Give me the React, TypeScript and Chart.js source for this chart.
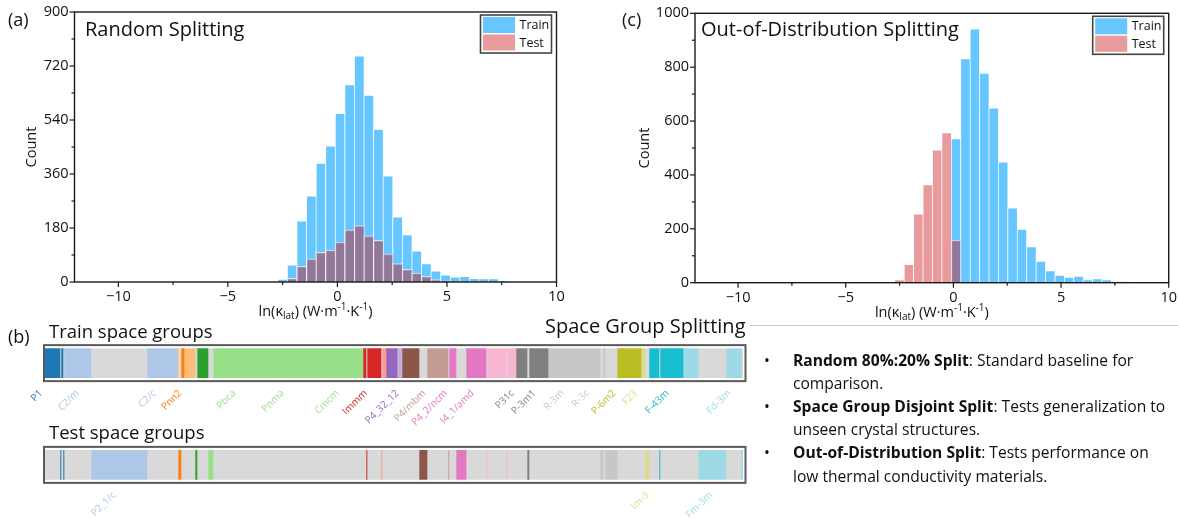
import React, { useEffect, useRef } from "react";
import { Chart, registerables } from "chart.js";

Chart.register(...registerables);

const FONT = '"Open Sans", "Noto Sans", "DejaVu Sans", sans-serif';
Chart.defaults.font.family = FONT;

// ---------------- histogram data ----------------
const binCenters = [
  -2.953, -2.516, -2.078, -1.641, -1.203, -0.766, -0.328, 0.109, 0.547, 0.984, 1.422, 1.859, 2.297,
  2.734, 3.172, 3.609, 4.047, 4.484, 4.922, 5.359, 5.797, 6.234, 6.672, 7.109, 7.547, 7.984,
];
const randomTrain = [
  0, 10, 57, 204, 287, 396, 454, 562, 658, 754, 623, 510, 354, 217, 158, 104, 61, 37, 24, 17, 19, 12, 11,
  11, 5, 0,
];
const randomTest = [
  0, 0, 12, 52, 77, 99, 106, 133, 174, 188, 154, 139, 94, 61, 42, 30, 19, 8, 4, 3, 2, 1, 1, 0, 0, 0,
];
const oodTrain = [
  0, 0, 0, 0, 0, 0, 0, 535, 832, 942, 778, 649, 449, 278, 199, 134, 80, 45, 28, 21, 25, 12, 15, 12, 4, 4,
];
const oodTest = [
  3, 12, 68, 256, 364, 493, 557, 158, 0, 0, 0, 0, 0, 0, 0, 0, 0, 0, 0, 0, 0, 0, 0, 0, 0, 0,
];
const xMajorTicks = [-10, -5, 0, 5, 10];
const xMinorTicks = [-7.5, -2.5, 2.5, 7.5];
const randomYTicks = [0, 180, 360, 540, 720, 900];
const oodYTicks = [0, 200, 400, 600, 800, 1000];
const seriesNames = ["Train", "Test"];

// ---------------- space-group strip data ----------------
const sgRows = ["Train", "Test"];
const sgBlockSize = [
  150, 10, 20, 10, 270, 560, 300, 10, 30, 30, 110, 20, 110, 50, 1500, 30, 10, 140, 10, 40, 110, 50, 170,
  80, 210, 10, 70, 100, 200, 10, 190, 10, 90, 110, 20, 190, 520, 30, 20, 120, 240, 40, 40, 100, 10, 230,
  150, 280, 150, 20,
];
const sgBlockSplit = [
  "tr", "te", "tr", "te", "tr", "te", "tr", "tr", "te", "tr", "tr", "te", "tr", "te", "tr", "tr", "te",
  "tr", "te", "tr", "tr", "tr", "tr", "te", "tr", "te", "tr", "te", "tr", "te", "tr", "te", "tr", "tr",
  "te", "tr", "tr", "te", "tr", "te", "tr", "tr", "te", "tr", "te", "tr", "tr", "te", "tr", "te",
];
const sgBlockGroup = [
  0, 0, 0, 0, 1, 1, 1, 3, 2, 2, 3, 4, 4, 5, 5, 6, 6, 6, 7, 7, 8, 9, 10, 10, 11, 11, 12, 12, 12, 13, 13, 13,
  13, 14, 14, 14, 15, 15, 15, 15, 16, 17, 17, 18, 18, 18, 19, 19, 19, 19,
];
const trainLabelNames = [
  "P1", "C2/m", "C2/c", "Pnn2", "Pbca", "Pnma", "Cmcm", "Immm", "P4_32_12", "P4/mbm", "P4_2/ncm",
  "I4_1/amd", "P31c", "P-3m1", "R-3m", "R-3c", "P-6m2", "F23", "F-43m", "Fd-3m",
];
const trainLabelPos = [
  -15, 350, 1120, 1375, 1917, 2400, 2950, 3233, 3550, 3817, 4033, 4300, 4700, 4917, 5200, 5450, 5717,
  5933, 6250, 6867,
];
const trainLabelGroup = [0, 1, 1, 2, 5, 5, 5, 6, 8, 11, 12, 12, 14, 14, 15, 15, 16, 17, 18, 19];
const testLabelNames = ["P2_1/c", "Im-3", "Fm-3m"];
const testLabelPos = [717, 6050, 6683];
const testLabelGroup = [1, 17, 19];

// ---------------- text panel ----------------
const bulletHeads = ["Random 80%:20% Split", "Space Group Disjoint Split", "Out-of-Distribution Split"];
const bulletFirst = [": Standard baseline for", ": Tests generalization to", ": Tests performance on"];
const bulletSecond = ["comparison.", "unseen crystal structures.", "low thermal conductivity materials."];

// ---------------- styles ----------------
const TRAIN_COLOR = "#66C6FF";
const TEST_COLOR = "rgba(201,10,14,0.41)";
const ABSENT = "#d9d9d9";
const TAB20 = [
  "#1f77b4", "#aec7e8", "#ff7f0e", "#ffbb78", "#2ca02c", "#98df8a", "#d62728", "#ff9896", "#9467bd",
  "#c5b0d5", "#8c564b", "#c49c94", "#e377c2", "#f7b6d2", "#7f7f7f", "#c7c7c7", "#bcbd22", "#dbdb8d",
  "#17becf", "#9edae5",
];
const AXIS = "#1a1a1a";

const fmt = (v: number) => (v < 0 ? "\u2212" + Math.abs(v) : String(v));

function histDecor(yTicks: number[], countOffset: number) {
  return {
    id: "histDecor",
    afterDraw(chart: any) {
      const { ctx, chartArea: a, scales } = chart;
      const xs = scales.x;
      const ys = scales.y;
      ctx.save();
      const line = (x1: number, y1: number, x2: number, y2: number) => {
        ctx.beginPath();
        ctx.moveTo(x1, y1);
        ctx.lineTo(x2, y2);
        ctx.stroke();
      };
      ctx.strokeStyle = AXIS;
      ctx.lineWidth = 1.4;
      ctx.strokeRect(a.left, a.top, a.right - a.left, a.bottom - a.top);
      ctx.lineWidth = 1.2;
      xMajorTicks.forEach((v) => {
        const x = xs.getPixelForValue(v);
        line(x, a.bottom, x, a.bottom + 5);
      });
      xMinorTicks.forEach((v) => {
        const x = xs.getPixelForValue(v);
        line(x, a.bottom, x, a.bottom + 3);
      });
      yTicks.forEach((v, i) => {
        const y = ys.getPixelForValue(v);
        line(a.left, y, a.left - 5, y);
        if (i < yTicks.length - 1) {
          const ym = ys.getPixelForValue((v + yTicks[i + 1]) / 2);
          line(a.left, ym, a.left - 3, ym);
        }
      });

      // y title
      ctx.fillStyle = "#111";
      ctx.font = `14.5px ${FONT}`;
      ctx.textAlign = "center";
      ctx.textBaseline = "middle";
      ctx.save();
      ctx.translate(a.left - countOffset, (a.top + a.bottom) / 2);
      ctx.rotate(-Math.PI / 2);
      ctx.fillText("Count", 0, 0);
      ctx.restore();

      // x title with sub/superscripts
      const parts = [
        { t: "ln(\u03BA", s: 14.5, dy: 0 },
        { t: "lat", s: 10, dy: 3 },
        { t: ") (W\u00B7m", s: 14.5, dy: 0 },
        { t: "-1", s: 10, dy: -6 },
        { t: "\u00B7K", s: 14.5, dy: 0 },
        { t: "-1", s: 10, dy: -6 },
        { t: ")", s: 14.5, dy: 0 },
      ];
      ctx.textAlign = "left";
      ctx.textBaseline = "alphabetic";
      let total = 0;
      parts.forEach((p) => {
        ctx.font = `${p.s}px ${FONT}`;
        total += ctx.measureText(p.t).width;
      });
      let cx = (a.left + a.right) / 2 - total / 2;
      const by = a.bottom + 34;
      parts.forEach((p) => {
        ctx.font = `${p.s}px ${FONT}`;
        ctx.fillText(p.t, cx, by + p.dy);
        cx += ctx.measureText(p.t).width;
      });

      // legend
      const bw = 71;
      const bh = 38;
      const bx = a.right - 5 - bw;
      const byy = a.top + 3;
      ctx.fillStyle = "#fff";
      ctx.fillRect(bx, byy, bw, bh);
      ctx.strokeStyle = "#444";
      ctx.lineWidth = 1.6;
      ctx.strokeRect(bx, byy, bw, bh);
      const dsets = chart.data.datasets;
      seriesNames.forEach((name: string, i: number) => {
        const ds = dsets.find((d: any) => d.label === name);
        const sy = byy + 2 + i * 17.5;
        ctx.fillStyle = ds.backgroundColor;
        ctx.fillRect(bx + 2.5, sy, 32, 16);
        ctx.fillStyle = "#111";
        ctx.font = `12.5px ${FONT}`;
        ctx.textBaseline = "middle";
        ctx.fillText(name, bx + 39, sy + 8.5);
      });
      ctx.restore();
    },
  };
}

type Pad = { left: number; right: number; top: number; bottom: number };

function Histogram(props: {
  left: number;
  top: number;
  width: number;
  height: number;
  pad: Pad;
  train: number[];
  test: number[];
  yTicks: number[];
  countOffset: number;
}) {
  const ref = useRef<HTMLCanvasElement>(null);
  useEffect(() => {
    const canvas = ref.current!;
    const yTicks = props.yTicks;
    const barStyle = {
      grouped: false,
      categoryPercentage: 1,
      barPercentage: 1,
      borderWidth: { top: 1, left: 1, right: 0, bottom: 0 },
      borderColor: "rgba(255,255,255,0.6)",
    };
    const chart = new Chart(canvas, {
      type: "bar",
      data: {
        datasets: [
          {
            label: "Test",
            data: binCenters.map((x, i) => ({ x, y: props.test[i] })),
            backgroundColor: TEST_COLOR,
            order: 0,
            ...barStyle,
          } as any,
          {
            label: "Train",
            data: binCenters.map((x, i) => ({ x, y: props.train[i] })),
            backgroundColor: TRAIN_COLOR,
            order: 1,
            ...barStyle,
          } as any,
        ],
      },
      options: {
        responsive: false,
        animation: false,
        layout: { padding: props.pad },
        plugins: { legend: { display: false }, tooltip: { enabled: false } },
        scales: {
          x: {
            type: "linear",
            min: -12,
            max: 10,
            offset: false,
            grid: { display: false, drawTicks: true, tickLength: 5 },
            border: { display: false },
            afterBuildTicks: (s: any) => {
              s.ticks = xMajorTicks.map((v) => ({ value: v }));
            },
            afterFit: (s: any) => {
              s.height = 30;
            },
            ticks: {
              padding: 1,
              maxRotation: 0,
              autoSkip: false,
              color: "#111",
              font: { size: 14.5, family: FONT },
              callback: (v: any) => fmt(Number(v)),
            },
          },
          y: {
            type: "linear",
            min: 0,
            max: yTicks[yTicks.length - 1],
            grid: { display: false, drawTicks: true, tickLength: 5 },
            border: { display: false },
            afterBuildTicks: (s: any) => {
              s.ticks = yTicks.map((v) => ({ value: v }));
            },
            afterFit: (s: any) => {
              s.width = 60;
            },
            ticks: {
              padding: 1,
              autoSkip: false,
              color: "#111",
              font: { size: 14.5, family: FONT },
              callback: (v: any) => String(v),
            },
          },
        },
      } as any,
      plugins: [histDecor(yTicks, props.countOffset)],
    });
    return () => chart.destroy();
  }, []);
  return (
    <canvas
      ref={ref}
      width={props.width}
      height={props.height}
      style={{ position: "absolute", left: props.left, top: props.top, width: props.width, height: props.height }}
    />
  );
}

const stripDecor = {
  id: "stripDecor",
  afterDraw(chart: any) {
    const { ctx, chartArea: a, scales } = chart;
    const xs = scales.x;
    const ys = scales.y;
    ctx.save();
    const rows = [
      { names: trainLabelNames, pos: trainLabelPos, grp: trainLabelGroup },
      { names: testLabelNames, pos: testLabelPos, grp: testLabelGroup },
    ];
    rows.forEach((row, r) => {
      const yc = ys.getPixelForValue(r);
      ctx.strokeStyle = "#5a5a5a";
      ctx.lineWidth = 2;
      ctx.strokeRect(a.left - 1, yc - 18, a.right - a.left + 3.5, 36);
      ctx.font = `10px ${FONT}`;
      ctx.textAlign = "right";
      ctx.textBaseline = "middle";
      row.names.forEach((nm, i) => {
        const x = xs.getPixelForValue(row.pos[i]) - 2.4;
        const y = yc + 18 + 10.5;
        ctx.save();
        ctx.translate(x, y);
        ctx.rotate(-Math.PI / 4);
        ctx.fillStyle = TAB20[row.grp[i]];
        ctx.fillText(nm, 0, 0);
        ctx.restore();
      });
    });
    ctx.restore();
  },
};

function SpaceGroupStrips() {
  const ref = useRef<HTMLCanvasElement>(null);
  useEffect(() => {
    const canvas = ref.current!;
    const total = sgBlockSize.reduce((s, v) => s + v, 0);
    const datasets = sgBlockSize.map((n, i) => ({
      label: `block${i}`,
      data: [n, n],
      backgroundColor: [
        sgBlockSplit[i] === "tr" ? TAB20[sgBlockGroup[i]] : ABSENT,
        sgBlockSplit[i] === "te" ? TAB20[sgBlockGroup[i]] : ABSENT,
      ],
      barThickness: 29,
      borderWidth: 0,
      stack: "sg",
    }));
    const chart = new Chart(canvas, {
      type: "bar",
      data: { labels: sgRows, datasets },
      options: {
        indexAxis: "y",
        responsive: false,
        animation: false,
        layout: { padding: { left: 45, right: 17, top: 12.25, bottom: 3.25 } },
        plugins: { legend: { display: false }, tooltip: { enabled: false } },
        scales: {
          x: { type: "linear", stacked: true, min: 0, max: total, display: false },
          y: { type: "category", stacked: true, display: false },
        },
      } as any,
      plugins: [stripDecor],
    });
    return () => chart.destroy();
  }, []);
  return (
    <canvas
      ref={ref}
      width={760}
      height={219}
      style={{ position: "absolute", left: 0, top: 300, width: 760, height: 219 }}
    />
  );
}

function T(props: { x: number; y: number; size: number; weight?: number; children: React.ReactNode }) {
  const { x, y, size, weight = 400 } = props;
  return (
    <div
      style={{
        position: "absolute",
        left: x,
        top: y - 0.888 * size,
        fontSize: size,
        lineHeight: `${size}px`,
        fontFamily: FONT,
        fontWeight: weight,
        color: "#111",
        whiteSpace: "nowrap",
      }}
    >
      {props.children}
    </div>
  );
}

export default function App() {
  const bulletBase = 366.5;
  const lineGap = 23.2;
  return (
    <div
      style={{
        position: "fixed",
        left: 0,
        top: 0,
        width: 1178,
        height: 519,
        background: "#fff",
        overflow: "hidden",
      }}
    >
      <Histogram
        left={0}
        top={0}
        width={580}
        height={320}
        pad={{ left: 14.5, right: 23.5, top: 12, bottom: 8 }}
        train={randomTrain}
        test={randomTest}
        yTicks={randomYTicks}
        countOffset={42.5}
      />
      <Histogram
        left={600}
        top={0}
        width={578}
        height={320}
        pad={{ left: 35, right: 9, top: 13.3, bottom: 7.3 }}
        train={oodTrain}
        test={oodTest}
        yTicks={oodYTicks}
        countOffset={50}
      />
      <SpaceGroupStrips />

      <T x={8} y={26} size={18}>(a)</T>
      <T x={622} y={26} size={18}>(c)</T>
      <T x={85} y={36.5} size={20}>Random Splitting</T>
      <T x={701} y={36.5} size={20}>Out-of-Distribution Splitting</T>
      <T x={8} y={343} size={18}>(b)</T>
      <T x={49} y={338.7} size={18.5}>Train space groups</T>
      <T x={49} y={439} size={18.5}>Test space groups</T>
      <T x={545} y={334} size={20}>Space Group Splitting</T>
      <div style={{ position: "absolute", left: 750, top: 325, width: 428, height: 1, background: "#c8c8c8" }} />

      {bulletHeads.map((h, i) => (
        <React.Fragment key={h}>
          <T x={764} y={bulletBase + lineGap * 2 * i} size={15.6}>{"\u2022"}</T>
          <T x={793} y={bulletBase + lineGap * 2 * i} size={15.6}>
            <b style={{ fontWeight: 700 }}>{h}</b>
            {bulletFirst[i]}
          </T>
          <T x={793} y={bulletBase + lineGap * (2 * i + 1)} size={15.6}>{bulletSecond[i]}</T>
        </React.Fragment>
      ))}
    </div>
  );
}
